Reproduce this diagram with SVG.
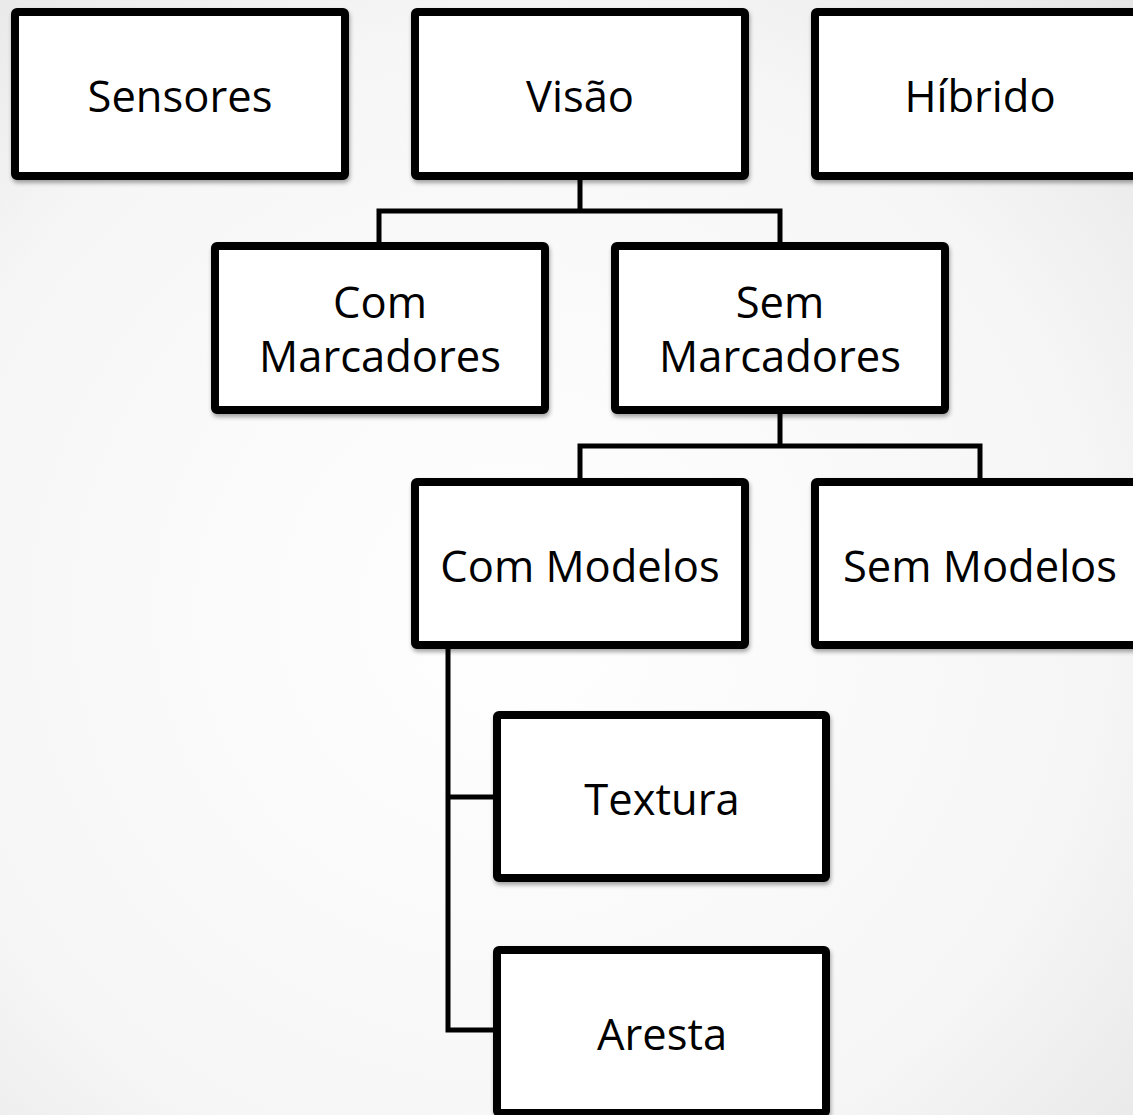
<svg xmlns="http://www.w3.org/2000/svg" width="1133" height="1115" viewBox="0 0 1133 1115">
<defs>
<radialGradient id="bg" cx="0.45" cy="0.55" r="0.8">
<stop offset="0" stop-color="#ffffff"/>
<stop offset="0.65" stop-color="#f6f6f6"/>
<stop offset="1" stop-color="#e4e4e4"/>
</radialGradient>
<filter id="sh" x="-10%" y="-10%" width="120%" height="130%">
<feDropShadow dx="1" dy="3" stdDeviation="2" flood-color="#000" flood-opacity="0.35"/>
</filter>
</defs>
<style>
.box{fill:#fff;stroke:#000;stroke-width:8;stroke-linejoin:round;filter:url(#sh)}
.lbl{font-family:"Open Sans","Noto Sans",sans-serif;font-size:43.5px;fill:#000;text-anchor:middle}
.con{fill:none;stroke:#000;stroke-width:5;stroke-linejoin:miter}
</style>
<rect width="1133" height="1115" fill="url(#bg)"/>
<g id="connectors">
<path class="con" d="M580 180 V211 M379 242 V211 H780 V242"/>
<path class="con" d="M780 413 V446 M580 478 V446 H980 V478"/>
<path class="con" d="M448 648 V1030 H494 M448 797 H494"/>
</g>
<g id="sensores"><rect class="box" x="15" y="12" width="330" height="164" rx="2"/><text class="lbl" x="180" y="112">Sensores</text></g>
<g id="visao"><rect class="box" x="415" y="12" width="330" height="164" rx="2"/><text class="lbl" x="580" y="112">Visão</text></g>
<g id="hibrido"><rect class="box" x="815" y="12" width="330" height="164" rx="2"/><text class="lbl" x="980" y="112">Híbrido</text></g>
<g id="com-marcadores"><rect class="box" x="215" y="246" width="330" height="164" rx="2"/><text class="lbl" x="380" y="318">Com</text><text class="lbl" x="380" y="372">Marcadores</text></g>
<g id="sem-marcadores"><rect class="box" x="615" y="246" width="330" height="164" rx="2"/><text class="lbl" x="780" y="318">Sem</text><text class="lbl" x="780" y="372">Marcadores</text></g>
<g id="com-modelos"><rect class="box" x="415" y="482" width="330" height="163" rx="2"/><text class="lbl" x="580" y="582">Com Modelos</text></g>
<g id="sem-modelos"><rect class="box" x="815" y="482" width="330" height="163" rx="2"/><text class="lbl" x="980" y="582">Sem Modelos</text></g>
<g id="textura"><rect class="box" x="497" y="715" width="329" height="163" rx="2"/><text class="lbl" x="662" y="815">Textura</text></g>
<g id="aresta"><rect class="box" x="497" y="950" width="329" height="163" rx="2"/><text class="lbl" x="662" y="1050">Aresta</text></g>
</svg>
